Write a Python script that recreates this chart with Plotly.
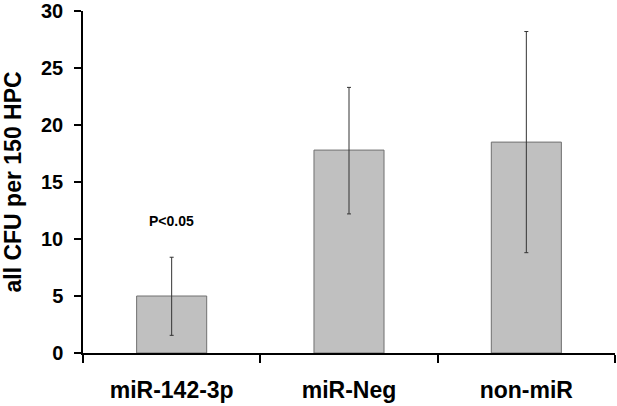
import plotly.graph_objects as go

categories = ["miR-142-3p", "miR-Neg", "non-miR"]
means = [5.0, 17.8, 18.5]
upper = [8.4, 23.3, 28.2]
lower = [1.55, 12.2, 8.8]
y_ticks = [0, 5, 10, 15, 20, 25, 30]
y_title = "all CFU per 150 HPC"
annot_text = "P<0.05"
annot_y = 11.6

err_plus = [u - m for u, m in zip(upper, means)]
err_minus = [m - l for m, l in zip(means, lower)]

FONT = "Liberation Sans, Arial, sans-serif"

fig = go.Figure(go.Bar(
    x=categories, y=means,
    marker=dict(color="#C0C0C0", line=dict(color="#707070", width=1)),
    error_y=dict(type="data", symmetric=False, array=err_plus, arrayminus=err_minus,
                 color="#333333", thickness=1, width=2),
))

fig.add_annotation(x=categories[0], y=annot_y, text="<b>%s</b>" % annot_text,
                   showarrow=False, font=dict(family=FONT, size=14, color="black"))

# y-axis title placed as rotated annotation
fig.add_annotation(xref="paper", yref="paper", x=-0.1325, y=0.5, xanchor="center", yanchor="middle",
                   text="<b>%s</b>" % y_title, textangle=-90, showarrow=False,
                   font=dict(family=FONT, size=23, color="black"))

fig.update_layout(
    width=617, height=406,
    margin=dict(l=83, r=2, t=11, b=53),
    paper_bgcolor="white", plot_bgcolor="white",
    bargap=0.605, showlegend=False,
    font=dict(family=FONT, color="black"),
)
fig.update_xaxes(
    automargin=False,
    tickvals=categories, ticktext=["<b>%s</b>" % c for c in categories],
    showline=True, linecolor="black", linewidth=1.5,
    ticks="outside", tickson="boundaries", ticklen=8, tickcolor="black", tickwidth=1.5,
    tickfont=dict(family=FONT, size=23, color="black"),
    ticklabelstandoff=16, ticklabeloverflow="allow",
    showgrid=False,
)
fig.update_yaxes(
    automargin=False,
    range=[0, 30], tickvals=y_ticks, ticktext=["<b>%d</b>" % v for v in y_ticks],
    showline=True, linecolor="black", linewidth=1.5,
    ticks="outside", ticklen=7, tickcolor="black", tickwidth=1.5,
    tickfont=dict(family=FONT, size=20, color="black"),
    ticklabelstandoff=7, ticklabeloverflow="allow",
    showgrid=False, zeroline=False,
)

fig.write_html("out.html", config={"displayModeBar": False},
               post_script="document.body.style.margin='0';document.body.style.padding='0';")
